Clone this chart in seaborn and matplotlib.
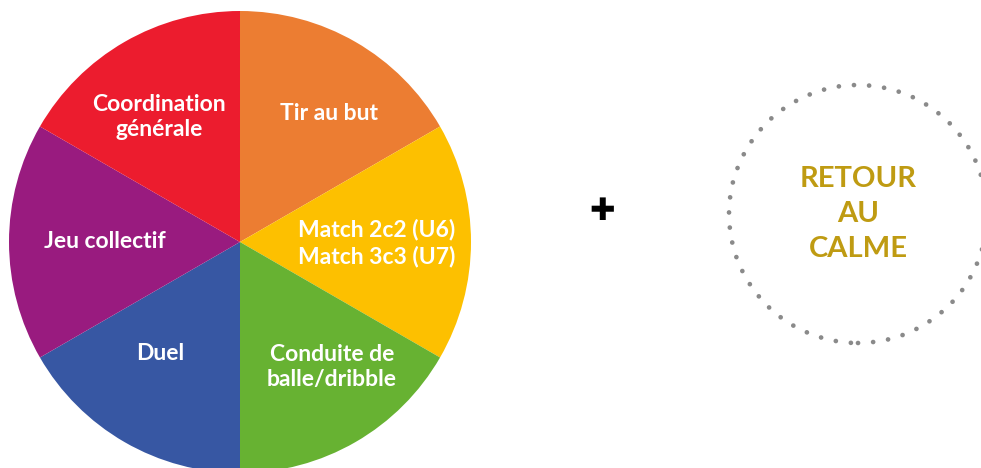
import matplotlib
matplotlib.use("Agg")
import matplotlib.pyplot as plt
import matplotlib.patches as mpatches
import seaborn as sns

# ---- data ----
categories = ["Tir au but", "Match 2c2 (U6)\nMatch 3c3 (U7)", "Conduite de\nballe/dribble",
              "Duel", "Jeu collectif", "Coordination\ngénérale"]
shares = [1, 1, 1, 1, 1, 1]
colors = ["#EC7D32", "#FDC000", "#67B232", "#3757A3", "#991B7F", "#EC1C2E"]
side_text = "RETOUR\nAU\nCALME"
plus_text = "✚"

# ---- layout (pixel coordinates, y downward) ----
W, H = 981, 468
pie_center = (240, 242)
pie_radius = 231
label_pos = [(329, 114), (377, 243), (332, 367), (160, 354), (105, 241), (159, 117)]
circle_center = (858, 214)
circle_radius = 129

sns.set_theme(style="white")
plt.rcParams['font.family'] = ['Lato', 'DejaVu Sans']

fig = plt.figure(figsize=(W / 100, H / 100), dpi=100)
ax = fig.add_axes([0, 0, 1, 1])
ax.set_xlim(0, W)
ax.set_ylim(0, H)
ax.set_aspect('equal')
ax.axis('off')

wedges, texts = ax.pie(shares, labels=categories, colors=colors, startangle=90,
                       counterclock=False, center=(pie_center[0], H - pie_center[1]),
                       radius=pie_radius, labeldistance=0.62,
                       wedgeprops=dict(linewidth=0),
                       textprops=dict(color="white", fontsize=16.5, fontweight="bold",
                                      ha="center", va="center", linespacing=1.25))
for t, (px, py) in zip(texts, label_pos):
    t.set_position((px, H - py))
    t.set_horizontalalignment("center")
    t.set_verticalalignment("center")
    t.set_multialignment("center")
ax.set_xlim(0, W)
ax.set_ylim(0, H)

# plus sign
ax.text(602, H - 212, plus_text, fontsize=22, color="black", ha="center", va="center",
        family=["DejaVu Sans"])

# dotted circle
circ = mpatches.Circle((circle_center[0], H - circle_center[1]), circle_radius, fill=False,
                       edgecolor="#8A8A8A", linewidth=3.4, linestyle=(0, (0.01, 3.2)))
circ.set_capstyle("round")
ax.add_patch(circ)

ax.text(circle_center[0], H - 214, side_text, fontsize=21, fontweight="bold",
        color="#BF9B12", ha="center", va="center", linespacing=1.45)

fig.savefig("out.png", dpi=100, facecolor="white")
